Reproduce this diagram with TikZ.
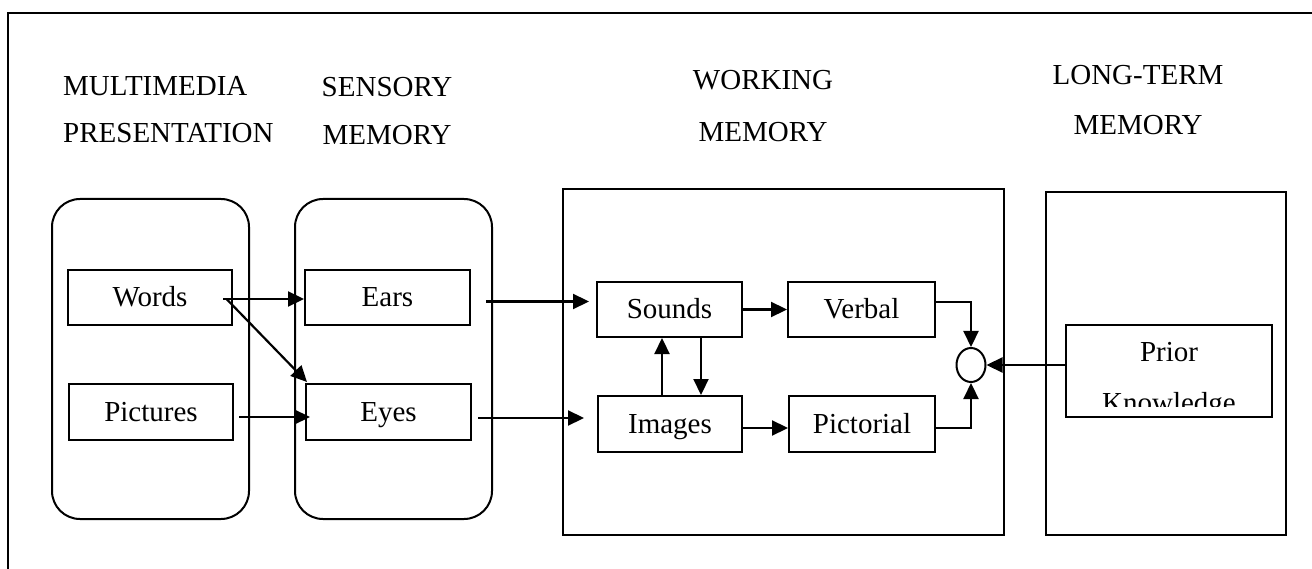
\documentclass[tikz,border=0pt]{standalone}
\usepackage{fontspec}
\setmainfont{Liberation Serif}
\usetikzlibrary{arrows.meta,calc,shapes.geometric}
\begin{document}
\begin{tikzpicture}[x=1pt,y=-1pt,
  font=\fontsize{29}{34}\selectfont,
  box/.style={draw, line width=2pt, inner sep=0pt, minimum height=55pt, text height=20pt, text depth=1pt},
  container/.style={draw, line width=2pt, inner sep=0pt},
  roundbox/.style={container, rounded corners=28pt},
  head/.style={inner sep=0pt, anchor=base},
  arr/.style={line width=2.2pt, -{Triangle[length=16pt,width=15pt]}},
  link/.style={line width=2.2pt}]
\useasboundingbox (0,0) rectangle (1312,569);
% outer frame
\coordinate (frameTL) at (8,13);
\coordinate (frameTR) at (1312,13);
\coordinate (frameBL) at (8,569);
\draw[line width=2.4pt] (frameTR) -- (frameTL) -- (frameBL);

% headings
\node[head, anchor=base west] (h1a) at (63,96) {MULTIMEDIA};
\node[head, anchor=base west] (h1b) at (63,143) {PRESENTATION};
\node[head] (h2a) at (387,97) {SENSORY};
\node[head] (h2b) at (387,145) {MEMORY};
\node[head] (h3a) at (763,90) {WORKING};
\node[head] (h3b) at (763,142) {MEMORY};
\node[head] (h4a) at (1138,85) {LONG-TERM};
\node[head] (h4b) at (1138,135) {MEMORY};

% containers
\node[roundbox, minimum width=197pt, minimum height=320pt] (mm) at (150.5,359) {};
\node[roundbox, minimum width=197pt, minimum height=320pt] (sm) at (393.5,359) {};
\node[container, minimum width=441pt, minimum height=346pt] (wm) at (783.5,362) {};
\node[container, minimum width=240pt, minimum height=343pt] (lm) at (1166,363.5) {};

% inner boxes
\node[box, minimum width=164pt] (Words) at (150,297.5) {Words};
\node[box, minimum width=164pt, minimum height=56pt] (Pictures) at (151,412) {Pictures};
\node[box, minimum width=165pt] (Ears) at (387.5,297.5) {Ears};
\node[box, minimum width=165pt, minimum height=56pt] (Eyes) at (388.5,412) {Eyes};
\node[box, minimum width=145pt] (Sounds) at (669.5,309.5) {Sounds};
\node[box, minimum width=144pt, minimum height=56pt] (Images) at (670,424) {Images};
\node[box, minimum width=147pt] (Verbal) at (861.5,309.5) {Verbal};
\node[box, minimum width=146pt, minimum height=56pt] (Pictorial) at (862,424) {Pictorial};
\node[draw, ellipse, line width=2pt, inner sep=0pt, minimum width=29pt, minimum height=34pt] (circ) at (971,365) {};

% prior knowledge box with clipped text
\node[container, minimum width=206pt, minimum height=92pt] (Prior) at (1169,371) {};
\begin{scope}
  \clip (Prior.north west) rectangle ($(Prior.south east)+(0,-12)$);
  \node[head] (priorA) at ($(Prior.north)+(0,38)$) {Prior};
  \node[head] (priorB) at ($(Prior.north)+(0,88)$) {Knowledge};
\end{scope}

% connectors
\draw[arr] ($(Words.east)+(-10,1.5)$) -- ($(Ears.west)+(0,1.5)$);
\draw[arr] ($(Words.east)+(-6,2)$) -- ($(Eyes.north west)+(2,-1)$);
\draw[arr] ($(Pictures.east)+(5,5)$) -- ($(Eyes.west)+(5,5)$);
\draw[arr] ($(Ears.east)+(15,4)$) -- ($(Sounds.west)+(-7,-8)$);
\draw[arr] ($(Eyes.east)+(6,6)$) -- ($(Images.west)+(-13,-6)$);
\draw[arr] (Sounds.east) -- (Verbal.west);
\draw[arr] ($(Images.east)+(0,4)$) -- ($(Pictorial.west)+(0,4)$);
\draw[arr] ($(Sounds.south)+(31.5,0)$) -- ($(Images.north)+(31,0)$);
\draw[arr] ($(Images.north)+(-8,0)$) -- ($(Sounds.south)+(-7.5,0)$);
\draw[arr] ($(Verbal.east)+(0,-7.5)$) -| (circ.north);
\draw[arr] ($(Pictorial.east)+(0,4)$) -| (circ.south);
\draw[arr] (Prior.west |- circ.east) -- (circ.east);
\end{tikzpicture}
\end{document}
